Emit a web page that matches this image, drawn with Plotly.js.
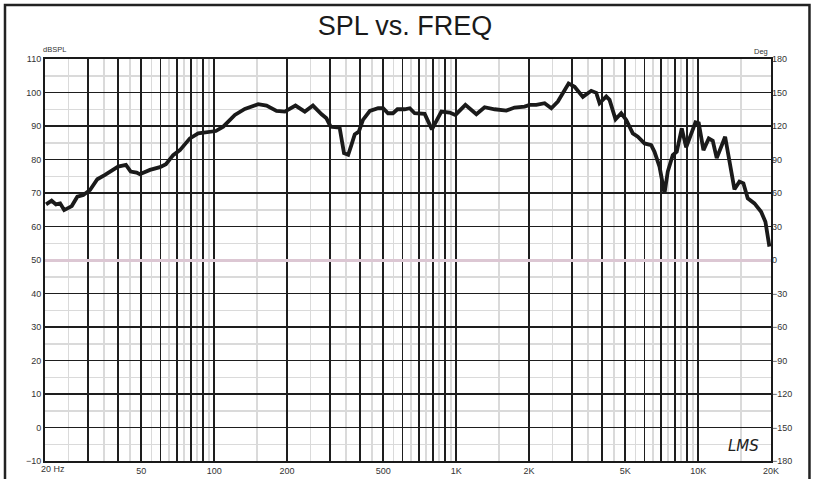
<!DOCTYPE html>
<html>
<head>
<meta charset="utf-8">
<script src="https://cdn.plot.ly/plotly-3.0.1.min.js"></script>
<style>
  html, body { margin: 0; padding: 0; background: #fff; }
  #chart { width: 814px; height: 479px; }
</style>
</head>
<body>
<div id="chart"></div>
<script>
// ---- data ----
const freqHz = [20.2, 21.3, 22.2, 23.1, 24.0, 25.8, 27.2, 28.8, 30.7, 32.9, 35.4, 40.1, 43.2, 45.2, 47.8, 49.3, 54.3, 59.7, 63.2, 67.7,
  72.2, 79.4, 85.9, 93.0, 101.6, 109, 116, 121.8, 133.9, 152, 164.6, 181, 195.9, 216.8, 237, 256, 278, 291, 303, 330,
  344, 358, 369, 381, 396, 412, 440, 476, 499, 523, 548, 572, 613, 643, 674, 741, 794, 869, 940, 993,
  1092, 1212, 1311, 1442, 1612, 1743, 1918, 2012, 2144, 2320, 2473, 2632, 2915, 3086, 3339, 3616, 3793, 3914, 4171, 4304,
  4557, 4810, 5044, 5370, 5632, 6004, 6398, 6602, 6922, 7260, 7490, 7854, 8158, 8556, 8922, 9356, 9748, 10058, 10518, 11062,
  11490, 11934, 12926, 14126, 14810, 15382, 16026, 17084, 18204, 18964, 19698];
const splDb = [66.6, 67.7, 66.6, 66.9, 64.9, 66.1, 68.9, 69.4, 70.9, 74.1, 75.4, 77.9, 78.4, 76.4, 76.1, 75.6, 76.9, 77.7, 78.6, 81.3,
  82.8, 86.3, 87.8, 88.1, 88.5, 89.8, 91.8, 93.3, 95.1, 96.5, 96.1, 94.5, 94.3, 96.1, 94.3, 96.1, 93.5, 92.3, 89.8, 89.5,
  81.9, 81.4, 84.3, 87.5, 88.3, 91.8, 94.5, 95.3, 95.3, 93.8, 93.8, 95, 95, 95.3, 93.8, 93.6, 89, 94.3, 94, 93.3,
  96.3, 93.5, 95.6, 95, 94.6, 95.5, 95.8, 96.3, 96.3, 96.8, 95.3, 97.3, 102.7, 101.7, 98.7, 100.5, 99.9, 96.8, 98.8, 97.8,
  92, 93.8, 91.8, 87.8, 86.8, 84.8, 84.3, 82.3, 77.9, 69.9, 76.4, 81.3, 82.3, 89.3, 83.6, 87.8, 91.1, 90.8, 82.8, 86.3,
  85.6, 80.4, 86.8, 71.1, 73.4, 72.9, 68.4, 66.9, 64.4, 61.4, 54];

// ---- tick definitions ----
const xMajorVals = [20, 30, 40, 50, 60, 70, 80, 90, 100, 200, 300, 400, 500, 600, 700, 800, 900, 1000,
  2000, 3000, 4000, 5000, 6000, 7000, 8000, 9000, 10000, 20000];
const xMajorText = ['', '', '', '50', '', '', '', '', '100', '200', '', '', '500', '', '', '', '', '1K',
  '2K', '', '', '5K', '', '', '', '', '10K', '20K'];
const xMinorVals = [25, 35, 45, 55, 65, 75, 85, 95, 150, 250, 350, 450, 550, 650, 750, 850, 950,
  1500, 2500, 3500, 4500, 5500, 6500, 7500, 8500, 9500, 15000];
const yLeftRange = [-10, 110];
const yRightRange = [-180, 180];

const tickFont = { family: 'Liberation Sans, Arial, sans-serif', size: 9, color: '#333' };
const smallFont = { family: 'Liberation Sans, Arial, sans-serif', size: 7.5, color: '#333' };
const darkGrid = '#1e1e1e';
const lightGrid = '#dadada';

const traces = [
  {
    x: freqHz, y: splDb, type: 'scatter', mode: 'lines',
    line: { color: '#1a1a1a', width: 3.8, shape: 'linear' },
    hoverinfo: 'skip', showlegend: false
  },
  {
    x: [1000], y: [0], xaxis: 'x', yaxis: 'y2', type: 'scatter', mode: 'markers',
    marker: { opacity: 0, size: 1 }, hoverinfo: 'skip', showlegend: false
  }
];

const layout = {
  width: 814, height: 479,
  margin: { l: 45, r: 42.5, t: 59, b: 18 },
  paper_bgcolor: '#fff', plot_bgcolor: '#fff',
  showlegend: false,
  title: {
    text: 'SPL vs. FREQ',
    font: { family: 'Liberation Sans, Arial, sans-serif', size: 27, color: '#1a1a1a' },
    x: 0.4975, xanchor: 'center', y: 0.946, yanchor: 'middle', xref: 'container', yref: 'container'
  },
  xaxis: {
    type: 'log',
    range: [Math.log10(20), Math.log10(20000)],
    tickmode: 'array', tickvals: xMajorVals, ticktext: xMajorText,
    showgrid: true, gridcolor: darkGrid, gridwidth: 1.8,
    minor: { tickmode: 'array', tickvals: xMinorVals, showgrid: true, gridcolor: lightGrid, gridwidth: 1.5, ticks: '' },
    ticks: '', tickfont: tickFont,
    showline: true, mirror: true, linecolor: '#1a1a1a', linewidth: 2,
    zeroline: false, fixedrange: true
  },
  yaxis: {
    range: yLeftRange, tick0: 0, dtick: 10,
    showgrid: true, gridcolor: darkGrid, gridwidth: 1.8,
    minor: { tick0: 5, dtick: 10, showgrid: true, gridcolor: lightGrid, gridwidth: 1.5, ticks: '' },
    ticks: '', tickfont: tickFont,
    showline: true, mirror: true, linecolor: '#1a1a1a', linewidth: 2,
    zeroline: false, fixedrange: true
  },
  yaxis2: {
    range: yRightRange, tick0: 0, dtick: 30,
    overlaying: 'y', side: 'right',
    showgrid: false, zeroline: true, zerolinecolor: '#dcc7d3', zerolinewidth: 3,
    ticks: '', tickfont: tickFont, showline: false, fixedrange: true
  },
  shapes: [
    { type: 'rect', xref: 'paper', yref: 'paper', x0: -0.0551, x1: 1.053, y0: -0.06, y1: 1.1343,
      line: { color: '#222', width: 2.5 }, fillcolor: 'rgba(0,0,0,0)', layer: 'above' }
  ],
  annotations: [
    { text: 'dBSPL', xref: 'paper', yref: 'paper', x: 0.0131, y: 1.0224, xanchor: 'center', yanchor: 'middle',
      showarrow: false, font: smallFont },
    { text: 'Deg', xref: 'paper', yref: 'paper', x: 0.9869, y: 1.0199, xanchor: 'center', yanchor: 'middle',
      showarrow: false, font: smallFont },
    { text: '20 Hz', xref: 'paper', yref: 'paper', x: 0.0117, y: -0.0199, xanchor: 'center', yanchor: 'middle',
      showarrow: false, font: tickFont },
    { text: '<i>LMS</i>', xref: 'paper', yref: 'paper', x: 0.9622, y: 0.0373, xanchor: 'center', yanchor: 'middle',
      showarrow: false, font: { family: 'DejaVu Sans, sans-serif', size: 15, color: '#222' } }
  ]
};

Plotly.newPlot('chart', traces, layout, { displayModeBar: false, staticPlot: true });
</script>
</body>
</html>
